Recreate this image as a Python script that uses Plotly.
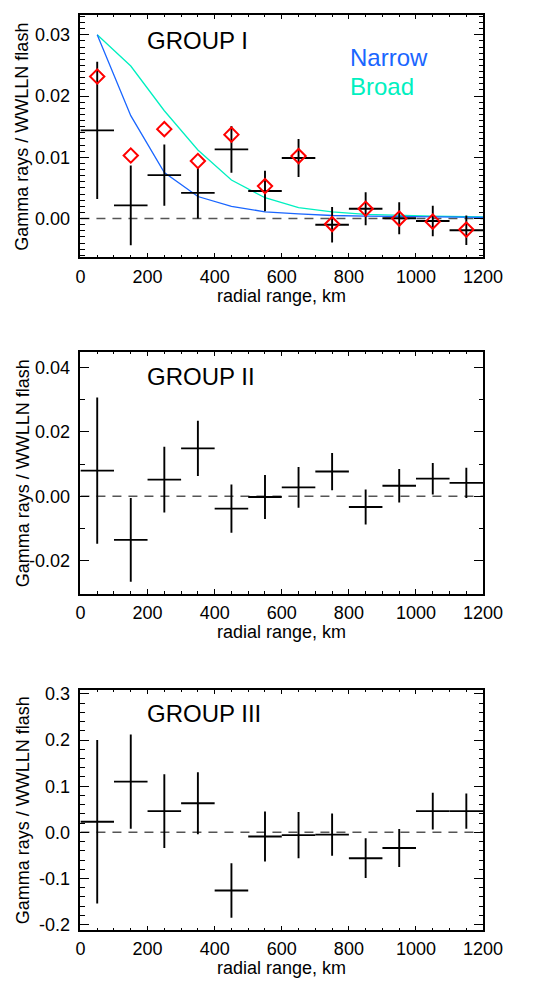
import plotly.graph_objects as go

# ---------------- data ----------------
range_km = [50, 150, 250, 350, 450, 550, 650, 750, 850, 950, 1050, 1150]
bin_half = [50] * 12

g1_val = [0.0144, 0.00215, 0.0071, 0.0042, 0.0113, 0.0045, 0.0099, -0.0010, 0.0016, 0.00005, -0.0004, -0.0019]
g1_err = [0.0112, 0.0065, 0.0050, 0.0042, 0.0038, 0.0033, 0.0031, 0.0029, 0.0027, 0.0026, 0.0025, 0.0024]
g1_diamond = [0.0232, 0.0103, 0.0146, 0.0094, 0.0137, 0.0053, 0.0102, -0.0009, 0.0016, 0.0000, -0.0005, -0.0018]

model_km = [50, 150, 250, 350, 450, 550, 650, 750, 850, 950, 1050, 1150, 1250]
narrow = [0.0300, 0.0168, 0.0075, 0.0036, 0.0020, 0.0011, 0.00075, 0.0005, 0.0004, 0.0003, 0.00025, 0.0002, 0.00015]
broad = [0.0300, 0.0249, 0.0176, 0.0112, 0.0063, 0.0034, 0.0018, 0.0011, 0.0007, 0.0005, 0.0004, 0.0003, 0.00025]

g2_val = [0.0080, -0.0135, 0.0052, 0.0149, -0.0038, -0.0002, 0.0028, 0.0077, -0.0033, 0.0033, 0.0055, 0.0042]
g2_err = [0.0227, 0.0130, 0.0102, 0.0086, 0.0075, 0.0068, 0.0063, 0.0058, 0.0054, 0.0052, 0.0049, 0.0047]

g3_val = [0.023, 0.110, 0.046, 0.063, -0.126, -0.009, -0.006, -0.005, -0.056, -0.034, 0.046, 0.046]
g3_err = [0.177, 0.102, 0.080, 0.067, 0.059, 0.054, 0.050, 0.046, 0.043, 0.041, 0.040, 0.038]

x_ticks = [0, 200, 400, 600, 800, 1000, 1200]
x_ticktext = ["0", "200", "400", "600", "800", "1000", "1200"]
y1_ticks = [0.0, 0.01, 0.02, 0.03]
y1_text = ["0.00", "0.01", "0.02", "0.03"]
y2_ticks = [-0.02, 0.0, 0.02, 0.04]
y2_text = ["-0.02", "0.00", "0.02", "0.04"]
y3_ticks = [-0.2, -0.1, 0.0, 0.1, 0.2, 0.3]
y3_text = ["-0.2", "-0.1", "0.0", "0.1", "0.2", "0.3"]

group_names = ["GROUP I", "GROUP II", "GROUP III"]

# ---------------- layout geometry ----------------
W, H = 554, 982
FONT = "Liberation Sans, Arial, Helvetica, sans-serif"
x_dom = [79 / W, 500.7 / W]
panels_px = [(9.3, 254.0), (350.0, 594.3), (691.7, 934.3)]
y_ranges = [[-0.0063, 0.0332], [-0.0302, 0.0448], [-0.2113, 0.3086]]
y_ticks = [y1_ticks, y2_ticks, y3_ticks]
y_texts = [y1_text, y2_text, y3_text]
y_minor = [0.001, 0.01, 0.02]
vals = [g1_val, g2_val, g3_val]
errs = [g1_err, g2_err, g3_err]

fig = go.Figure()
layout = dict(
    width=W, height=H, margin=dict(l=0, r=0, t=0, b=0),
    paper_bgcolor="white", plot_bgcolor="white", showlegend=False,
    font=dict(family=FONT, size=18, color="black"),
)
annotations = []
shapes = []

for i in range(3):
    n = "" if i == 0 else str(i + 1)
    xa, ya = "x" + n, "y" + n
    top, bot = panels_px[i]
    layout["xaxis" + n] = dict(
        domain=x_dom, range=[0, 1200], anchor=ya,
        tickmode="array", tickvals=x_ticks, ticktext=x_ticktext,
        ticks="inside", ticklen=4.5, tickwidth=1.2, tickcolor="black",
        minor=dict(ticks="inside", dtick=50, tick0=0, ticklen=2.5, tickwidth=1.2, tickcolor="black"),
        showline=True, linecolor="black", linewidth=1.5, mirror="allticks",
        showgrid=False, zeroline=False,
        tickfont=dict(family=FONT, size=18, color="black"),
        ticklabelstandoff=2,
    )
    layout["yaxis" + n] = dict(
        domain=[1 - bot / H, 1 - top / H], range=y_ranges[i], anchor=xa,
        tickmode="array", tickvals=y_ticks[i], ticktext=y_texts[i],
        ticks="inside", ticklen=9, tickwidth=1.2, tickcolor="black",
        minor=dict(ticks="inside", dtick=y_minor[i], tick0=0, ticklen=4.5, tickwidth=1.2, tickcolor="black"),
        showline=True, linecolor="black", linewidth=1.5, mirror="allticks",
        showgrid=False, zeroline=False,
        tickfont=dict(family=FONT, size=18, color="black"),
        ticklabelstandoff=5,
    )
    # dashed zero line
    shapes.append(dict(type="line", xref=xa, yref=ya, x0=0, x1=1200, y0=0, y1=0,
                       line=dict(color="#555555", width=1.5, dash="9px,7px"), layer="below"))
    if i == 0:
        fig.add_trace(go.Scatter(x=model_km, y=broad, mode="lines", xaxis=xa, yaxis=ya,
                                 line=dict(color="#00f0c0", width=1.3)))
        fig.add_trace(go.Scatter(x=model_km, y=narrow, mode="lines", xaxis=xa, yaxis=ya,
                                 line=dict(color="#1a66ff", width=1.3)))
    fig.add_trace(go.Scatter(
        x=range_km, y=vals[i], mode="markers", xaxis=xa, yaxis=ya,
        marker=dict(size=1, color="rgba(0,0,0,0)"),
        error_x=dict(type="data", array=bin_half, symmetric=True, thickness=1.9, width=0, color="black"),
        error_y=dict(type="data", array=errs[i], symmetric=True, thickness=1.9, width=0, color="black"),
    ))
    if i == 0:
        fig.add_trace(go.Scatter(x=range_km, y=g1_diamond, mode="markers", xaxis=xa, yaxis=ya,
                                 marker=dict(symbol="diamond-open", size=11, color="#ff0000",
                                             line=dict(width=2, color="#ff0000"))))
    # y title
    annotations.append(dict(text="Gamma rays / WWLLN flash", xref="paper", yref="paper",
                            x=18.3 / W, y=1 - (top + bot) / 2 / H, textangle=-90,
                            showarrow=False, xanchor="center", yanchor="middle",
                            font=dict(family=FONT, size=18, color="black")))
    # x title
    annotations.append(dict(text="radial range, km", xref="paper", yref="paper",
                            x=(79 + 500.7) / 2 / W, y=1 - (bot + 39) / H,
                            showarrow=False, xanchor="center", yanchor="middle",
                            font=dict(family=FONT, size=18, color="black")))

# group labels
group_y = [35, 375, 715.7]
for name, gy in zip(group_names, group_y):
    annotations.append(dict(text=name, xref="paper", yref="paper", x=147 / W, y=1 - gy / H,
                            showarrow=False, xanchor="left", yanchor="middle",
                            font=dict(family=FONT, size=24, color="black")))
annotations.append(dict(text="Narrow", xref="paper", yref="paper", x=359 / W, y=1 - 51.7 / H,
                        showarrow=False, xanchor="left", yanchor="middle",
                        font=dict(family=FONT, size=24, color="#1a66ff")))
annotations.append(dict(text="Broad", xref="paper", yref="paper", x=359 / W, y=1 - 81.7 / H,
                        showarrow=False, xanchor="left", yanchor="middle",
                        font=dict(family=FONT, size=24, color="#00f0c0")))

layout["annotations"] = annotations
layout["shapes"] = shapes
fig.update_layout(**layout)
fig.write_html("out.html")
